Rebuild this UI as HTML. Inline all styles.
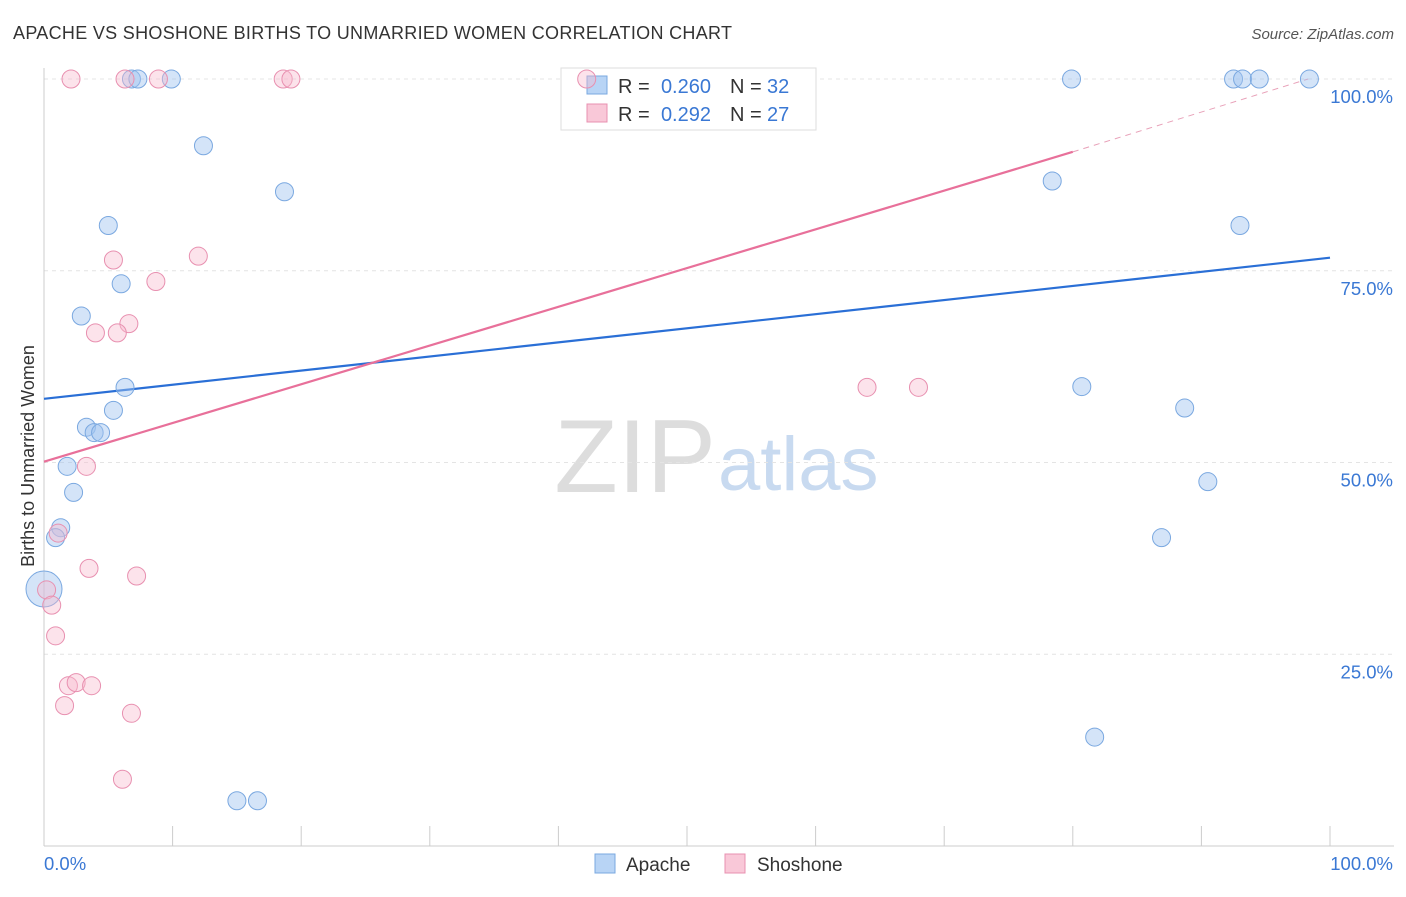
<!DOCTYPE html>
<html><head><meta charset="utf-8"><style>
body{margin:0;background:#fff;font-family:"Liberation Sans",sans-serif;}
svg text{font-family:"Liberation Sans",sans-serif;}
</style></head><body>
<svg id="chart" width="1406" height="892" xmlns="http://www.w3.org/2000/svg">
<text x="13" y="39" font-size="18" fill="#333" textLength="719">APACHE VS SHOSHONE BIRTHS TO UNMARRIED WOMEN CORRELATION CHART</text>
<text x="1394" y="39" font-size="15" fill="#555" text-anchor="end" font-style="italic">Source: ZipAtlas.com</text>
<text x="716" y="492" font-size="104" text-anchor="end" fill="#ddd" font-family="Liberation Serif">ZIP</text>
<text x="718" y="490" font-size="76" fill="#c8daf0">atlas</text>
<g id="grid"></g><g id="axes"></g><g id="lines"></g>
<text transform="translate(34,456) rotate(-90)" font-size="18" fill="#333" text-anchor="middle">Births to Unmarried Women</text>
<g>
<rect x="561" y="68" width="255" height="62" fill="#fff" stroke="#ddd"/>
<rect x="587" y="76" width="20" height="18" fill="#b8d4f5" stroke="#7aa8e0"/>
<text x="618" y="93" font-size="20" fill="#333">R =</text>
<text x="711" y="93" font-size="20" fill="#3a78d4" text-anchor="end">0.260</text>
<text x="730" y="93" font-size="20" fill="#333">N =</text>
<text x="767" y="93" font-size="20" fill="#3a78d4">32</text>
<rect x="587" y="104" width="20" height="18" fill="#f9c8d8" stroke="#e890b0"/>
<text x="618" y="121" font-size="20" fill="#333">R =</text>
<text x="711" y="121" font-size="20" fill="#3a78d4" text-anchor="end">0.292</text>
<text x="730" y="121" font-size="20" fill="#333">N =</text>
<text x="767" y="121" font-size="20" fill="#3a78d4">27</text>
</g>
<g id="points"></g>
<g>
<rect x="595" y="854" width="20" height="19" fill="#b8d4f5" stroke="#7aa8e0"/>
<text x="626" y="871" font-size="19" fill="#333">Apache</text>
<rect x="725" y="854" width="20" height="19" fill="#f9c8d8" stroke="#e890b0"/>
<text x="757" y="871" font-size="19" fill="#333">Shoshone</text>
</g>
</svg>
<script>
const apacheX=[6.8,7.3,9.9,12.4,18.7,5.0,6.0,2.9,6.3,5.4,3.3,3.9,4.4,1.8,2.3,1.3,0.9,0,15.0,16.6,79.9,78.4,80.7,81.7,86.9,88.7,90.5,92.5,93.2,94.5,98.4,93.0];
const apacheY=[100,100,100,91.3,85.3,80.9,73.3,69.1,59.8,56.8,54.6,53.9,53.9,49.5,46.1,41.5,40.2,33.5,5.9,5.9,100,86.7,59.9,14.2,40.2,57.1,47.5,100,100,100,100,80.9];
const apacheR=[9,9,9,9,9,9,9,9,9,9,9,9,9,9,9,9,9,18,9,9,9,9,9,9,9,9,9,9,9,9,9,9];
const shoX=[2.1,6.3,8.9,18.6,19.2,42.2,5.4,12.0,8.7,6.6,4.0,5.7,3.3,1.1,3.5,7.2,0.2,0.6,0.9,1.9,2.5,3.7,1.6,6.8,6.1,64.0,68.0];
const shoY=[100,100,100,100,100,100,76.4,76.9,73.6,68.1,66.9,66.9,49.5,40.8,36.2,35.2,33.4,31.4,27.4,20.9,21.3,20.9,18.3,17.3,8.7,59.8,59.8];
const yTicks=[25,50,75,100];
const yTickLabels=["25.0%","50.0%","75.0%","100.0%"];
const apacheLine=[[0,58.3],[100,76.7]];
const shoLine=[[0,50.1],[80,90.5],[98.3,100]];
const X=v=>44+v*12.86, Y=v=>846-v*7.67;
const NS="http://www.w3.org/2000/svg";
function mk(parent,tag,attrs){const e=document.createElementNS(NS,tag);for(const k in attrs)e.setAttribute(k,attrs[k]);document.getElementById(parent).appendChild(e);return e;}
yTicks.forEach((t,i)=>{
 const g=mk('grid','line',{x1:44,x2:1394,y1:Y(t),y2:Y(t),stroke:'#e4e4e4','stroke-dasharray':'4,4'});
 
 
 const l=mk('axes','text',{x:1393,y:Y(t)+24,'font-size':18.5,fill:'#3a78d4','text-anchor':'end'});
 
 
 l.textContent=yTickLabels[i];
});
let ax=mk('axes','line',{x1:44,x2:1394,y1:846,y2:846,stroke:'#ccc'});


let ay=mk('axes','line',{x1:44,x2:44,y1:68,y2:846,stroke:'#ccc'});


for(let i=1;i<=10;i++){const t=mk('axes','line',{x1:X(i*10),x2:X(i*10),y1:826,y2:846,stroke:'#ccc'});
 
 }
[["0.0%",44,'start'],["100.0%",1393,'end']].forEach(a=>{const t=mk('axes','text',{x:a[1],y:870,'font-size':18.5,fill:'#3a78d4','text-anchor':a[2]});
 
 
 t.textContent=a[0];});
let bl=mk('lines','line',{x1:X(apacheLine[0][0]),y1:Y(apacheLine[0][1]),x2:X(apacheLine[1][0]),y2:Y(apacheLine[1][1]),stroke:'#2a6fd6','stroke-width':2.2});


let pl=mk('lines','line',{x1:X(shoLine[0][0]),y1:Y(shoLine[0][1]),x2:X(shoLine[1][0]),y2:Y(shoLine[1][1]),stroke:'#e8709a','stroke-width':2.2});


let pd=mk('lines','line',{x1:X(shoLine[1][0]),y1:Y(shoLine[1][1]),x2:X(shoLine[2][0]),y2:Y(shoLine[2][1]),stroke:'#e8a0b8','stroke-width':1,'stroke-dasharray':'6,5'});


apacheX.forEach((x,i)=>{const c=mk('points','circle',{cx:X(x),cy:Y(apacheY[i]),r:apacheR[i],fill:'rgba(160,196,240,0.45)',stroke:'#7aa8e0','stroke-width':1});
 
 });
shoX.forEach((x,i)=>{const c=mk('points','circle',{cx:X(x),cy:Y(shoY[i]),r:9,fill:'rgba(248,184,206,0.4)',stroke:'#e890b0','stroke-width':1});
 
 });
</script>
</body></html>
